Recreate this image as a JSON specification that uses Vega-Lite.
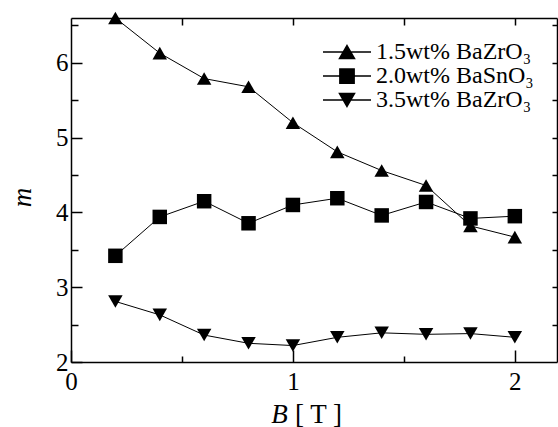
{
  "$schema": "https://vega.github.io/schema/vega-lite/v6.json",
  "width": 486,
  "height": 344,
  "autosize": {"type": "none"},
  "padding": {"left": 71, "top": 18, "right": 1, "bottom": 65},
  "background": "white",
  "config": {
    "view": {"stroke": null},
    "font": "Liberation Serif",
    "axis": {
      "grid": false,
      "ticks": true,
      "domainColor": "black",
      "domainWidth": 1.5,
      "tickColor": "black",
      "tickWidth": 1.5,
      "tickOpacity": 1,
      "labelColor": "black",
      "labelFont": "Liberation Serif",
      "labelFontSize": 25,
      "titleColor": "black",
      "titleFont": "Liberation Serif",
      "titleFontWeight": "normal",
      "titleFontSize": 27
    }
  },
  "data": {
    "values": [
      {"series": "1.5wt% BaZrO₃", "B": 0.2, "m": 6.6},
      {"series": "1.5wt% BaZrO₃", "B": 0.4, "m": 6.13},
      {"series": "1.5wt% BaZrO₃", "B": 0.6, "m": 5.79},
      {"series": "1.5wt% BaZrO₃", "B": 0.8, "m": 5.68},
      {"series": "1.5wt% BaZrO₃", "B": 1.0, "m": 5.2},
      {"series": "1.5wt% BaZrO₃", "B": 1.2, "m": 4.81},
      {"series": "1.5wt% BaZrO₃", "B": 1.4, "m": 4.56},
      {"series": "1.5wt% BaZrO₃", "B": 1.6, "m": 4.36},
      {"series": "1.5wt% BaZrO₃", "B": 1.8, "m": 3.82},
      {"series": "1.5wt% BaZrO₃", "B": 2.0, "m": 3.67},
      {"series": "2.0wt% BaSnO₃", "B": 0.2, "m": 3.42},
      {"series": "2.0wt% BaSnO₃", "B": 0.4, "m": 3.94},
      {"series": "2.0wt% BaSnO₃", "B": 0.6, "m": 4.15},
      {"series": "2.0wt% BaSnO₃", "B": 0.8, "m": 3.855},
      {"series": "2.0wt% BaSnO₃", "B": 1.0, "m": 4.1},
      {"series": "2.0wt% BaSnO₃", "B": 1.2, "m": 4.19},
      {"series": "2.0wt% BaSnO₃", "B": 1.4, "m": 3.96},
      {"series": "2.0wt% BaSnO₃", "B": 1.6, "m": 4.14},
      {"series": "2.0wt% BaSnO₃", "B": 1.8, "m": 3.92},
      {"series": "2.0wt% BaSnO₃", "B": 2.0, "m": 3.95},
      {"series": "3.5wt% BaZrO₃", "B": 0.2, "m": 2.81},
      {"series": "3.5wt% BaZrO₃", "B": 0.4, "m": 2.63},
      {"series": "3.5wt% BaZrO₃", "B": 0.6, "m": 2.36},
      {"series": "3.5wt% BaZrO₃", "B": 0.8, "m": 2.25},
      {"series": "3.5wt% BaZrO₃", "B": 1.0, "m": 2.22},
      {"series": "3.5wt% BaZrO₃", "B": 1.2, "m": 2.33},
      {"series": "3.5wt% BaZrO₃", "B": 1.4, "m": 2.39},
      {"series": "3.5wt% BaZrO₃", "B": 1.6, "m": 2.37},
      {"series": "3.5wt% BaZrO₃", "B": 1.8, "m": 2.38},
      {"series": "3.5wt% BaZrO₃", "B": 2.0, "m": 2.33}
    ]
  },
  "layer": [
    {
      "mark": {"type": "line", "color": "black", "strokeWidth": 1},
      "encoding": {
        "x": {
          "field": "B", "type": "quantitative",
          "scale": {"domain": [0, 2.19], "nice": false, "zero": false},
          "axis": {
            "values": [0, 0.5, 1, 1.5, 2],
            "title": "[ T ]",
            "labelFont": "Liberation Serif",
            "labelFontSize": 25,
            "labelFlush": false,
            "labelPadding": 19,
            "tickSize": {"condition": {"test": "datum.value % 1 === 0", "value": -12}, "value": -6},
            "labelExpr": "datum.value % 1 === 0 ? format(datum.value, 'd') : ''",
            "titleX": 247, "titleY": 60, "titleBaseline": "alphabetic", "titleAlign": "center"
          }
        },
        "y": {
          "field": "m", "type": "quantitative",
          "scale": {"domain": [2, 6.6], "nice": false, "zero": false},
          "axis": {
            "values": [2, 2.5, 3, 3.5, 4, 4.5, 5, 5.5, 6, 6.5],
            "title": "m",
            "titleFontStyle": "italic",
            "labelFont": "Liberation Serif",
            "labelFontSize": 25,
            "labelFlush": false,
            "labelPadding": 14,
            "tickSize": {"condition": {"test": "datum.value % 1 === 0", "value": -11}, "value": -7},
            "labelExpr": "datum.value % 1 === 0 ? format(datum.value, 'd') : ''",
            "titleX": -41, "titleY": 179, "titleBaseline": "alphabetic", "titleAlign": "center", "titleAngle": -90
          }
        },
        "detail": {"field": "series", "type": "nominal"}
      }
    },
    {
      "mark": {"type": "point", "filled": true, "color": "black", "opacity": 1, "size": 210},
      "encoding": {
        "x": {
          "field": "B", "type": "quantitative",
          "axis": {
            "orient": "bottom", "domain": false, "ticks": false, "labels": false,
            "title": "B", "titleFontStyle": "italic",
            "titleX": 208, "titleY": 60, "titleBaseline": "alphabetic", "titleAlign": "center"
          }
        },
        "y": {"field": "m", "type": "quantitative", "axis": null},
        "shape": {
          "field": "series", "type": "nominal",
          "scale": {"domain": ["1.5wt% BaZrO₃", "2.0wt% BaSnO₃", "3.5wt% BaZrO₃"], "range": ["triangle-up", "square", "triangle-down"]},
          "legend": null
        }
      }
    },
    {
      "mark": {"type": "point", "filled": false, "fill": "black", "stroke": "black", "strokeWidth": 1, "opacity": 0, "size": 225},
      "encoding": {
        "x": {
          "field": "B", "type": "quantitative",
          "axis": {"orient": "top", "values": [0.5, 1, 1.5, 2], "labels": false, "title": null,
                   "tickSize": {"condition": {"test": "datum.value % 1 === 0", "value": -7}, "value": -7}}
        },
        "y": {
          "field": "m", "type": "quantitative",
          "axis": {"orient": "right", "values": [2.5, 3, 3.5, 4, 4.5, 5, 5.5, 6, 6.5], "labels": false, "title": null,
                   "tickSize": {"condition": {"test": "datum.value % 1 === 0", "value": -5}, "value": -5}}
        },
        "shape": {
          "field": "series", "type": "nominal",
          "scale": {
            "domain": ["1.5wt% BaZrO₃", "2.0wt% BaSnO₃", "3.5wt% BaZrO₃"],
            "range": [
              "M-3.2,0H3.2M0,-0.866L1,0.866H-1Z",
              "M-3.2,0H3.2M-0.95,-0.95H0.95V0.95H-0.95Z",
              "M-3.2,0H3.2M0,0.866L1,-0.866H-1Z"
            ]
          },
          "legend": {
            "orient": "none",
            "legendX": 264,
            "legendY": 22,
            "title": null,
            "padding": 0,
            "rowPadding": 0,
            "labelFont": "Liberation Serif",
            "labelFontSize": 24,
            "labelColor": "black",
            "labelOffset": 17,
            "symbolSize": 225,
            "symbolOpacity": 1,
            "encode": {
              "symbols": {
                "update": {
                  "fill": {"value": "black"},
                  "stroke": {"value": "black"},
                  "strokeWidth": {"value": 1},
                  "opacity": {"value": 1}
                }
              }
            }
          }
        }
      }
    }
  ],
  "resolve": {
    "axis": {"x": "independent", "y": "independent"},
    "scale": {"shape": "independent"}
  }
}
